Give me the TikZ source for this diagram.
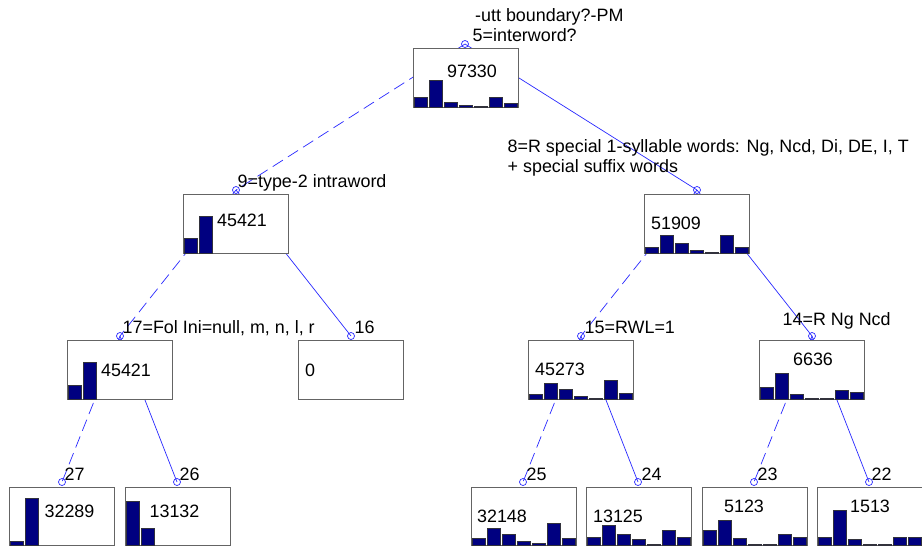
\documentclass[tikz,border=0pt]{standalone}
\usepackage{fontspec}
\setmainfont{Liberation Sans}
\definecolor{edgeblue}{RGB}{40,40,255}
\definecolor{boxgrey}{RGB}{100,100,100}
\definecolor{barnavy}{RGB}{0,0,128}
\definecolor{barline}{RGB}{50,50,60}

% histogram of a leaf box: left edge, bottom edge, bar heights
\newcommand\histbars[3]{%
  \foreach \h [count=\i] in {#3} {%
    \draw[histbar] ({#1+1+15*(\i-1)},#2) rectangle ++(13,-\h);
  }%
}

\begin{document}
\begin{tikzpicture}[x=1pt,y=-1pt,
  edge/.style={draw=edgeblue, line width=0.7pt},
  leftedge/.style={edge, dash pattern=on 12pt off 6pt},
  splitpt/.style={circle, draw=edgeblue, line width=0.7pt, inner sep=0pt, minimum size=7pt},
  leafbox/.style={draw=boxgrey, fill=white, line width=0.8pt},
  histbar/.style={fill=barnavy, draw=barline, line width=0.6pt},
  lbl/.style={anchor=base west, inner sep=0pt, font=\fontsize{17.9}{20}\selectfont},
  cnt/.style={anchor=base, inner sep=0pt, font=\fontsize{17.9}{20}\selectfont}]

\useasboundingbox[fill=white] (0,0) rectangle (922,547);

% split points
\coordinate (c5)  at (465,44);
\coordinate (c9)  at (236,190);
\coordinate (c8)  at (697,190);
\coordinate (c17) at (120,336);
\coordinate (c16) at (351,336);
\coordinate (c15) at (581,336);
\coordinate (c14) at (812,336);
\coordinate (c27) at (62,482);
\coordinate (c26) at (177,482);
\coordinate (c25) at (523,482);
\coordinate (c24) at (638,482);
\coordinate (c23) at (754,482);
\coordinate (c22) at (869,482);

% branches: dashed to the left child, solid to the right child
\draw[leftedge] (c5) -- (c9);
\draw[edge]     (c5) -- (c8);
\draw[leftedge] (c9) -- (c17);
\draw[edge]     (c9) -- (c16);
\draw[leftedge] (c8) -- (c15);
\draw[edge]     (c8) -- (c14);
\draw[leftedge] (c17) -- (c27);
\draw[edge]     (c17) -- (c26);
\draw[leftedge] (c15) -- (c25);
\draw[edge]     (c15) -- (c24);
\draw[leftedge] (c14) -- (c23);
\draw[edge]     (c14) -- (c22);

% boxes
\draw[leafbox] (413,48.5) rectangle (518,107);
\draw[leafbox] (183,194.5) rectangle (288,253);
\draw[leafbox] (644,194.5) rectangle (749,253);
\draw[leafbox] (67,340.5) rectangle (172,399);
\draw[leafbox] (298,340.5) rectangle (403,399);
\draw[leafbox] (528,340.5) rectangle (633,399);
\draw[leafbox] (759,340.5) rectangle (864,399);
\draw[leafbox] (9,487) rectangle (114,545.5);
\draw[leafbox] (125,487) rectangle (230,545.5);
\draw[leafbox] (471,487) rectangle (576,545.5);
\draw[leafbox] (586,487) rectangle (691,545.5);
\draw[leafbox] (702,487) rectangle (807,545.5);
\draw[leafbox] (817,487) rectangle (922,545.5);

% class histograms
\histbars{413}{107}{10,27,5,2,1,10,4}
\histbars{183}{253}{15,37}
\histbars{644}{253}{6,18,10,3,1,18,6}
\histbars{67}{399}{14,37}
\histbars{528}{399}{5,16,10,3,1,19,6}
\histbars{759}{399}{12,26,5,1,1,9,7}
\histbars{9}{545.5}{4,47}
\histbars{125}{545.5}{44,17}
\histbars{471}{545.5}{7,17,11,4,2,22,7}
\histbars{586}{545.5}{8,20,11,6,1,15,8}
\histbars{702}{545.5}{15,25,7,1,1,11,8}
\histbars{817}{545.5}{8,35,6,1,1,8,8}

% counts
\node[cnt] (k5)  at (472,77)    {97330};
\node[cnt] (k9)  at (242,226)   {45421};
\node[cnt] (k8)  at (676,229)   {51909};
\node[cnt] (k17) at (126,376)   {45421};
\node[cnt] (k16) at (310,376)   {0};
\node[cnt] (k15) at (560,375)   {45273};
\node[cnt] (k14) at (813,365)   {6636};
\node[cnt] (k27) at (69.5,517)  {32289};
\node[cnt] (k26) at (174.5,517) {13132};
\node[cnt] (k25) at (502,522)   {32148};
\node[cnt] (k24) at (618,522)   {13125};
\node[cnt] (k23) at (744,512)   {5123};
\node[cnt] (k22) at (870,512)   {1513};

% split point markers
\foreach \n in {5,9,8,17,16,15,14,27,26,25,24,23,22}
  \node[splitpt] (p\n) at (c\n) {};

% question labels
\node[lbl] (q5a) at (475,21)    {-utt boundary?-PM};
\node[lbl] (q5b) at (472.5,41)  {5=interword?};
\node[lbl] (q9)  at (237.5,187) {9=type-2 intraword};
\node[lbl] (q8a) at (507.5,152) {8=R special 1-syllable words: Ng, Ncd, Di, DE, I, T};
\node[lbl] (q8b) at (507.5,172) {+ special suffix words};
\node[lbl] (q17) at (122.5,333) {17=Fol Ini=null, m, n, l, r};
\node[lbl] (q16) at (354.5,333) {16};
\node[lbl] (q15) at (584.5,333) {15=RWL=1};
\node[lbl] (q14) at (782.5,325) {14=R Ng Ncd};
\node[lbl] (q27) at (64.5,480)  {27};
\node[lbl] (q26) at (179.5,480) {26};
\node[lbl] (q25) at (526.5,480) {25};
\node[lbl] (q24) at (641.5,480) {24};
\node[lbl] (q23) at (757.5,480) {23};
\node[lbl] (q22) at (871.5,480) {22};
\end{tikzpicture}
\end{document}
